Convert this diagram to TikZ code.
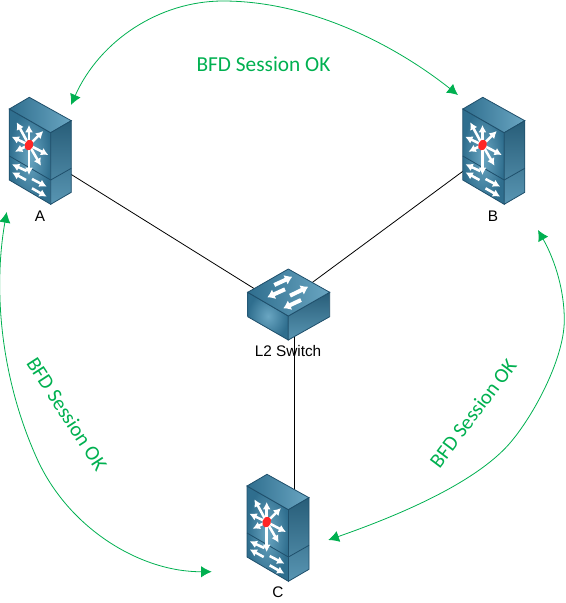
\documentclass[tikz,border=0pt]{standalone}
\usepackage{fontspec}
\setmainfont{Liberation Sans}
\newfontfamily\bfdfont{Carlito}
\usetikzlibrary{arrows.meta, calc}

\definecolor{bfdgreen}{HTML}{00B050}
\definecolor{edgeblue}{HTML}{1F4F6B}
\definecolor{faceblue}{HTML}{6AA6C2}
\definecolor{deepblue}{HTML}{2F6E8E}

\tikzset{
    leftface/.style={draw=edgeblue, line width=0.6pt, inner color=faceblue, outer color=deepblue},
    topface/.style={draw=edgeblue, line width=0.6pt, left color=deepblue, right color=faceblue},
    rightface/.style={draw=edgeblue, line width=0.6pt, top color=deepblue!85!black, bottom color=faceblue!70!deepblue},
    whitearrow/.style={white, line width=1.9pt, -{Latex[length=5.5pt,width=6pt]}},
    bigarrow/.style={white, line width=3pt, -{Latex[length=5.5pt,width=8pt]}},
    session/.style={bfdgreen, line width=0.6pt, {Latex[length=8pt,width=8.5pt]}-{Latex[length=8pt,width=8.5pt]}},
    sessiontext/.style={text=bfdgreen, font=\bfdfont\fontsize{16}{19}\selectfont},
    sidetext/.style={text=bfdgreen, font=\bfdfont\fontsize{15.5}{19}\selectfont},
    devlabel/.style={font=\fontsize{11.5}{14}\selectfont, inner sep=0pt},
    pics/msfc/.style={code={
        % Steny
        \path[leftface] (0,0) -- (41.4,23.7) -- (41.4,95.3) -- (0,71) -- cycle;
        \path[topface] (0,0) -- (20,-11.7) -- (62,11.7) -- (41.4,23.7) -- cycle;
        \path[rightface] (41.4,23.7) -- (62,11.7) -- (62,83.3) -- (41.4,95.3) -- cycle;
        \draw[edgeblue, line width=0.6pt] (0,47) -- (41.4,71) -- (62,59.3);
        % Hvezda
        \foreach \ex/\ey in {19.7/16, 19.7/66, 7.4/13.3, 2.4/27.7, 5.7/42.7, 34/22, 39/46, 31.7/56.7}
            \draw[whitearrow] (19.7,36) -- (\ex,\ey);
        \fill[red!85!white, rotate around={-20:(19.7,36)}] (19.7,36) ellipse (4.2 and 5.5);
        % Spodni sipky
        \draw[whitearrow] (17.4,62) -- (2.7,55.3);
        \draw[whitearrow] (16.7,71) -- (2.7,63.3);
        \draw[whitearrow] (22.7,70) -- (37.4,77.7);
        \draw[whitearrow] (22.7,79.3) -- (37.4,87.7);
    }}
}

\begin{document}
\begin{tikzpicture}[x=0.75pt, y=-0.75pt]
    \useasboundingbox (0,0) rectangle (565,603);

    % Stredy prvku
    \coordinate (devA) at (40,155);
    \coordinate (devB) at (493,149);
    \coordinate (devC) at (294.5,520);
    \coordinate (swA) at (288,309.7);
    \coordinate (swB) at (288,300.4);
    \coordinate (swC) at (294.5,305);

    % Linky
    \draw[black, line width=0.6pt] (devA) -- (swA);
    \draw[black, line width=0.6pt] (devB) -- (swB);
    \draw[black, line width=0.6pt] (devC) -- (swC);

    % Zarizeni
    \pic at (9.3,109) {msfc};
    \pic at (462.8,109) {msfc};
    \pic at (247,486) {msfc};

    % Switch
    \path[leftface] (247.7,292.3) -- (288.3,316) -- (288.3,340) -- (247.7,316.7) -- cycle;
    \path[rightface] (288.3,316) -- (329.7,292.3) -- (329.7,316.7) -- (288.3,340) -- cycle;
    \path[topface] (288.3,269) -- (329.7,292.3) -- (288.3,316) -- (247.7,292.3) -- cycle;
    \draw[bigarrow] (274.3,285) -- (292.3,276.7);
    \draw[bigarrow] (285,289.3) -- (267.3,297.3);
    \draw[bigarrow] (290,295.7) -- (308.3,286.7);
    \draw[bigarrow] (301,300) -- (283.3,308.3);

    % Popisky
    \node[devlabel] (labelA) at (40,216) {A};
    \node[devlabel] (labelB) at (493,216) {B};
    \node[devlabel] (labelC) at (278,592) {C};
    \node[devlabel] (labelSw) at (288,351) {L2 Switch};

    % Konce sipek
    \coordinate (topL) at (71,105);
    \coordinate (topR) at (458,95);
    \coordinate (leftT) at (6.7,212);
    \coordinate (leftB) at (211.7,571.7);
    \coordinate (rightT) at (538,230);
    \coordinate (rightB) at (328.3,540);

    % BFD
    \draw[session] (topL) .. controls (100,40) and (160,1) .. (223,1) .. controls (310,1) and (395,45) .. (topR);
    \draw[session] (leftT) .. controls (-7,290) and (0.7,378) .. (36.7,458) .. controls (68,528) and (140,572) .. (leftB);
    \draw[session] (rightT) .. controls (556,262) and (564.3,292) .. (564.3,320) .. controls (564.3,360) and (531,420.5) .. (506.7,446.7) .. controls (471.7,484) and (400,515) .. (rightB);

    \node[sessiontext] (bfdTop) at (263.5,64) {BFD Session OK};
    \node[sidetext, rotate=-57] (bfdLeft) at (67,414) {BFD Session OK};
    \node[sidetext, rotate=53] (bfdRight) at (473,413) {BFD Session OK};
\end{tikzpicture}
\end{document}
